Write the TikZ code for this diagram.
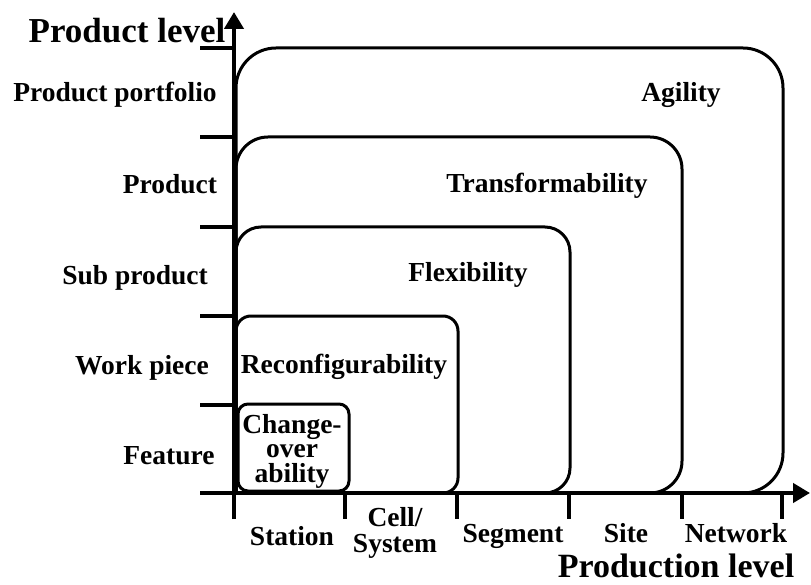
\documentclass[tikz,border=0pt]{standalone}
\usepackage{fontspec}
\setmainfont{Liberation Serif}
\usetikzlibrary{arrows.meta}
\begin{document}
\begin{tikzpicture}[x=1pt,y=-1pt,
  axis/.style={line width=4.5pt,-{Triangle[length=17pt,width=19pt]}},
  tick/.style={line width=3.5pt},
  region/.style={line width=3pt},
  lbl/.style={anchor=base,inner sep=0pt,font=\fontsize{27.5}{24.5}\selectfont\bfseries,align=center},
  title/.style={anchor=base,inner sep=0pt,font=\fontsize{35}{35}\selectfont\bfseries}]
\useasboundingbox (0,0) rectangle (811,585);

% nested capability regions (lower-left corner sits on the axes)
\draw[region,rounded corners=40pt] (236,493) |- (783,48) |- (236,493);
\draw[region,rounded corners=32pt] (236,493) |- (682,137) |- (236,493);
\draw[region,rounded corners=25pt] (236,493) |- (570,227) |- (236,493);
\draw[region,rounded corners=15pt] (236,493) |- (458,316) |- (236,493);
\draw[region,rounded corners=10pt] (238,491) rectangle (349,404);

% ticks on the product axis
\foreach \yy in {48,137,227,316,405,493}
  \draw[tick] (200,\yy) -- (234,\yy);
% ticks on the production axis
\foreach \xx in {345,457,569,682,782}
  \draw[tick] (\xx,493) -- (\xx,519);

% axes
\coordinate (origin) at (234,493);
\coordinate (ybot) at (234,519);
\coordinate (ytop) at (234,12);
\coordinate (xleft) at (200,493);
\coordinate (xright) at (810,493);
\draw[axis] (ybot) -- (ytop);
\draw[axis] (xleft) -- (xright);

% axis titles
\node[title] (ptitle) at (127,43) {Product level};
\node[title,font=\fontsize{34}{34}\selectfont\bfseries] (xtitle) at (676,577) {Production level};

% product levels
\node[lbl] (pport) at (115,102) {Product portfolio};
\node[lbl] (prod) at (170,194) {Product};
\node[lbl] (sub) at (135,284) {Sub product};
\node[lbl] (work) at (142,374) {Work piece};
\node[lbl] (feat) at (169,464) {Feature};

% production levels (multi-line nodes are placed by their last baseline)
\node[lbl] (station) at (292,545) {Station};
\node[lbl] (cell) at (395,552) {Cell/\\[1.5pt]System};
\node[lbl] (segment) at (513,542) {Segment};
\node[lbl] (site) at (626,542) {Site};
\node[lbl] (network) at (736,542) {Network};

% region names
\node[lbl] (agility) at (681,102) {Agility};
\node[lbl] (transf) at (547,193) {Transformability};
\node[lbl] (flex) at (468,282) {Flexibility};
\node[lbl] (reconf) at (344,373) {Reconfigurability};
\node[lbl] (chg) at (292,482) {Change-\\over\\ability};
\end{tikzpicture}
\end{document}
